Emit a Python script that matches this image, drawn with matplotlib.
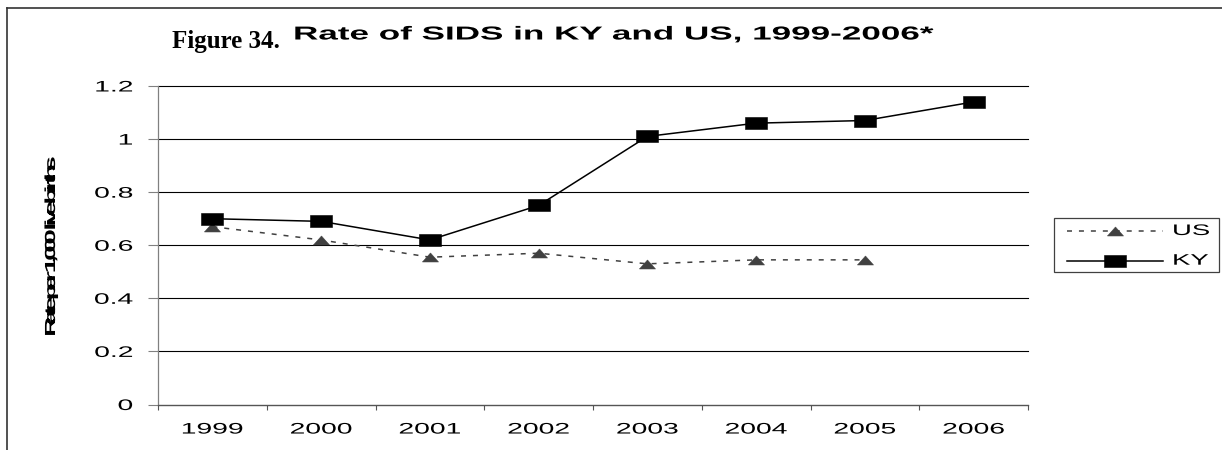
import numpy as np
import matplotlib
matplotlib.use('Agg')
import matplotlib.pyplot as plt
from matplotlib.path import Path
from matplotlib.transforms import Affine2D
from matplotlib.lines import Line2D
from matplotlib.patches import Rectangle
from matplotlib.patheffects import AbstractPathEffect

years = ['1999', '2000', '2001', '2002', '2003', '2004', '2005', '2006']
ky_rate = [0.70, 0.69, 0.62, 0.75, 1.01, 1.06, 1.07, 1.14]
us_rate = [0.67, 0.62, 0.555, 0.57, 0.53, 0.545, 0.545]   # no 2006 figure yet
y_ticks = [0, 0.2, 0.4, 0.6, 0.8, 1.0, 1.2]

W, H = 1222, 450
plt.rcParams['font.family'] = ['Liberation Sans', 'DejaVu Sans']
plt.rcParams['lines.scale_dashes'] = False


class Stretch(AbstractPathEffect):
    """Draw text widened horizontally about its left, centre or right edge."""
    def __init__(self, sx, anchor='center'):
        super().__init__()
        self.sx = sx
        self.anchor = anchor

    def draw_path(self, renderer, gc, tpath, affine, rgbFace=None):
        ext = tpath.get_extents()
        x0 = {'left': 0.0, 'center': (ext.x0 + ext.x1) / 2, 'right': ext.x1}[self.anchor]
        t = Affine2D().translate(-x0, 0).scale(self.sx, 1).translate(x0, 0) + affine
        renderer.draw_path(gc, tpath, t, rgbFace)


class GlyphStretch(AbstractPathEffect):
    """Widen every glyph about its own centre but keep the normal advance,
    so neighbouring letters run into each other."""
    def __init__(self, sx):
        super().__init__()
        self.sx = sx

    def draw_path(self, renderer, gc, tpath, affine, rgbFace=None):
        verts = tpath.vertices.copy()
        codes = tpath.codes
        starts = list(np.flatnonzero(codes == Path.MOVETO)) + [len(codes)]
        spans = []
        for a, b in zip(starts[:-1], starts[1:]):
            xs = verts[a:b][codes[a:b] != Path.CLOSEPOLY, 0]
            spans.append((a, b, xs.min(), xs.max()))
        for a, b, lo, hi in spans:
            # holes (inside of o, e, 0 ...) follow the outline that encloses them
            outer = max((s for s in spans if s[2] <= lo + 1e-6 and s[3] >= hi - 1e-6),
                        key=lambda s: s[3] - s[2])
            cx = (outer[2] + outer[3]) / 2
            verts[a:b, 0] = cx + (verts[a:b, 0] - cx) * self.sx
        renderer.draw_path(gc, Path(verts, codes), affine, rgbFace)


rect = [(-1, -0.55), (1, -0.55), (1, 0.55), (-1, 0.55), (-1, -0.55)]
tri = [(-1, -0.56), (1, -0.56), (0, 0.56), (-1, -0.56)]
styles = {
    'US': dict(color='#404040', lw=1.1, dashes=(3.6, 5.0), marker=tri, ms=11.5,
               mfc='#404040', mec='#404040', mew=0.4),
    'KY': dict(color='black', lw=1.1, ls='-', marker=rect, ms=15.8,
               mfc='black', mec='black', mew=0.4),
}

fig = plt.figure(figsize=(W / 100, H / 100), dpi=100)
ax = fig.add_axes([158 / W, 1 - 404.5 / H, 870 / W, 318.5 / H])

x = np.arange(len(years))
ax.plot(x[:len(us_rate)], us_rate, **styles['US'], zorder=3)
ax.plot(x, ky_rate, **styles['KY'], zorder=4)

ax.set_xlim(-0.5, len(years) - 0.5)
ax.set_ylim(0, 1.2)

ax.set_yticks(y_ticks, labels=[f'{v:g}' for v in y_ticks])
ax.yaxis.grid(True, color='black', lw=0.8)
for g in ax.get_ygridlines():
    g.set_clip_on(False)
ax.set_axisbelow(True)

# category axis: ticks between the years, labels under the middle
ax.set_xticks(np.arange(len(years) + 1) - 0.5, labels=[])
ax.set_xticks(x, labels=years, minor=True)
ax.tick_params(axis='x', which='major', direction='out', length=3.6, width=0.8, color='#555555')
ax.tick_params(axis='x', which='minor', length=0, pad=13, labelsize=11)
ax.tick_params(axis='y', direction='out', length=7.2, width=0.8, color='#808080',
               pad=11, labelsize=11)
for lab in ax.get_xticklabels(minor=True):
    lab.set_path_effects([Stretch(1.85, 'center')])
for lab in ax.get_yticklabels():
    lab.set_path_effects([Stretch(1.85, 'right')])

for side in ('top', 'right'):
    ax.spines[side].set_visible(False)
ax.spines['left'].set_color('#808080')
ax.spines['bottom'].set_color('#555555')
ax.spines['left'].set_linewidth(0.9)
ax.spines['bottom'].set_linewidth(0.9)

ax.set_ylabel('Rate per 1,000 live births', fontsize=10.5, fontweight='bold', va='center',
              path_effects=[GlyphStretch(1.9)])
ax.yaxis.set_label_coords((51 - 158) / 870, 0.5)

fig.text(172 / W, 1 - 48 / H, 'Figure 34.', family='Liberation Serif', weight='bold',
         size=18, va='baseline')
fig.text(293 / W, 1 - 39.5 / H, 'Rate of SIDS in KY and US, 1999-2006*', weight='bold',
         size=13.5, va='baseline', path_effects=[Stretch(1.87, 'left')])

# legend box to the right of the plot
fig.add_artist(Rectangle((1054 / W, 1 - 272 / H), 165 / W, 54 / H, transform=fig.transFigure,
                         fill=False, ec='#404040', lw=0.9))
for name, row_y in (('US', 231), ('KY', 260.7)):
    st = dict(styles[name])
    mk = dict(marker=st.pop('marker'), ms=st.pop('ms'), mfc=st.pop('mfc'),
              mec=st.pop('mec'), mew=st.pop('mew'))
    yy = 1 - row_y / H
    fig.add_artist(Line2D([1066.7 / W, 1163 / W], [yy, yy], transform=fig.transFigure, **st))
    fig.add_artist(Line2D([1115 / W], [yy], transform=fig.transFigure, ls='none', **mk))
    fig.text(1172 / W, yy, name, size=11, va='center', path_effects=[Stretch(1.8, 'left')])

# page frame around the figure
fig.add_artist(Line2D([7.5 / W, 1], [1 - 7.5 / H] * 2, transform=fig.transFigure,
                      color='#333333', lw=1.2))
fig.add_artist(Line2D([7.5 / W] * 2, [0, 1 - 7.5 / H], transform=fig.transFigure,
                      color='#333333', lw=1.2))

fig.savefig('out.png', dpi=100)
